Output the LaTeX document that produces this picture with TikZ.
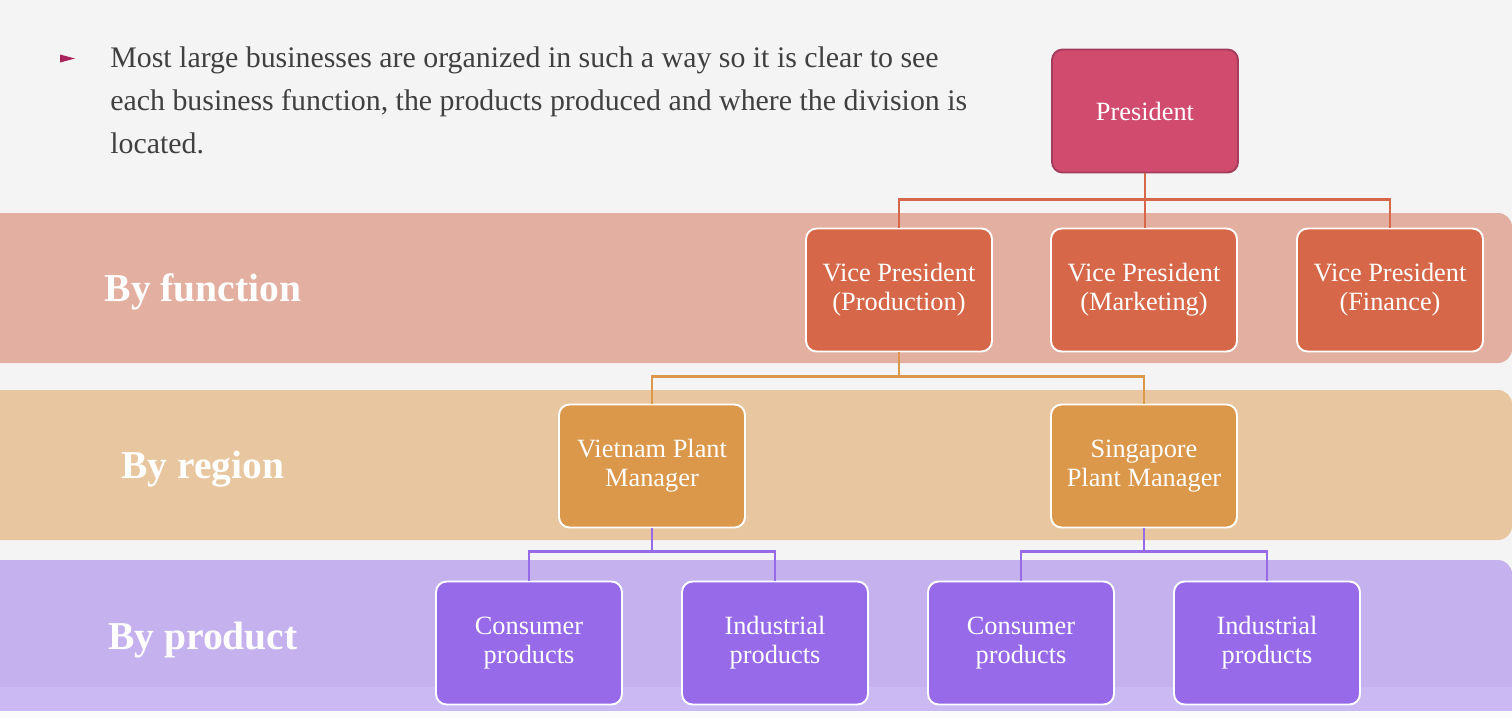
\documentclass[tikz,border=0pt]{standalone}
\usepackage{fontspec}
\setmainfont{Liberation Serif}
\definecolor{pagebg}{HTML}{F4F4F4}
\definecolor{funcband}{HTML}{E3AFA0}
\definecolor{regband}{HTML}{E8C7A0}
\definecolor{prodband}{HTML}{C5B1EE}
\definecolor{prodstrip}{HTML}{CBB9F3}
\definecolor{presfill}{HTML}{D14B6E}
\definecolor{presdraw}{HTML}{A33C5D}
\definecolor{funcfill}{HTML}{D66748}
\definecolor{regfill}{HTML}{DB974A}
\definecolor{prodfill}{HTML}{966AE8}
\definecolor{bodytext}{HTML}{404040}
\definecolor{bulletred}{HTML}{A8245A}
\tikzset{
  orgbox/.style={rounded corners=6pt, minimum width=3.72cm, minimum height=2.46cm,
    align=center, text=white, font=\fontsize{15}{16.4}\selectfont, line width=1.1pt},
  presbox/.style={orgbox, fill=presfill, draw=presdraw},
  funcbox/.style={orgbox, fill=funcfill, draw=white},
  regbox/.style={orgbox, fill=regfill, draw=white},
  prodbox/.style={orgbox, fill=prodfill, draw=white},
  bandlabel/.style={text=white, font=\fontsize{22.5}{26}\selectfont\bfseries},
  introline/.style={anchor=base west, inner sep=0pt, text=bodytext,
    font=\fontsize{17}{20}\selectfont},
  funcline/.style={draw=funcfill, line width=1.2pt},
  regline/.style={draw=regfill, line width=1.2pt},
  prodline/.style={draw=prodfill, line width=1.2pt}
}
\begin{document}
\begin{tikzpicture}[x=0.02cm, y=-0.02cm]
	\useasboundingbox (0,0) rectangle (1512,718);
	\clip (0,0) rectangle (1512,718);
	% Hintergrund und Baender
	\fill[pagebg] (0,0) rectangle (1512,718);
	\fill[funcband, rounded corners=8pt] (-20,213) rectangle (1512,363);
	\fill[regband, rounded corners=8pt] (-20,390) rectangle (1512,540);
	\fill[prodband, rounded corners=8pt] (-20,560) rectangle (1512,711);
	\fill[prodstrip] (0,687) rectangle (1512,711);
	\fill[white!60!pagebg] (0,711) rectangle (1512,718);

	% Aufzaehlung
	\fill[bulletred] (60,54.5) -- (75,58.5) -- (60,62.5) -- cycle;
	\node[introline] (intro1) at (110,67)
		{Most large businesses are organized in such a way so it is clear to see};
	\node[introline] (intro2) at (110,110)
		{each business function, the products produced and where the division is};
	\node[introline] (intro3) at (110,153) {located.};

	% Bandbeschriftungen
	\node[bandlabel] (byfunc) at (203,292) {By function};
	\node[bandlabel] (byreg) at (203,469) {By region};
	\node[bandlabel] (byprod) at (203,640) {By product};

	% Knoten
	\node[presbox] (pres) at (1145,111) {President};
	\node[funcbox] (vpprod) at (899,290) {Vice President\\(Production)};
	\node[funcbox] (vpmark) at (1144,290) {Vice President\\(Marketing)};
	\node[funcbox] (vpfin) at (1390,290) {Vice President\\(Finance)};
	\node[regbox] (vietnam) at (652,466) {Vietnam Plant\\Manager};
	\node[regbox] (singapore) at (1144,466) {Singapore\\Plant Manager};
	\node[prodbox] (vncons) at (529,643) {Consumer\\products};
	\node[prodbox] (vnind) at (775,643) {Industrial\\products};
	\node[prodbox] (sgcons) at (1021,643) {Consumer\\products};
	\node[prodbox] (sgind) at (1267,643) {Industrial\\products};

	% Verbindungen
	\draw[funcline] (pres.south) -- ++(0,26) -| (vpprod.north);
	\draw[funcline] (pres.south) -- (pres.south |- vpmark.north);
	\draw[funcline] (pres.south) -- ++(0,26) -| (vpfin.north);
	\draw[regline] (vpprod.south) -- ++(0,24) -| (vietnam.north);
	\draw[regline] (vpprod.south) -- ++(0,24) -| (singapore.north);
	\draw[prodline] (vietnam.south) -- ++(0,23) -| (vncons.north);
	\draw[prodline] (vietnam.south) -- ++(0,23) -| (vnind.north);
	\draw[prodline] (singapore.south) -- ++(0,23) -| (sgcons.north);
	\draw[prodline] (singapore.south) -- ++(0,23) -| (sgind.north);
\end{tikzpicture}
\end{document}
